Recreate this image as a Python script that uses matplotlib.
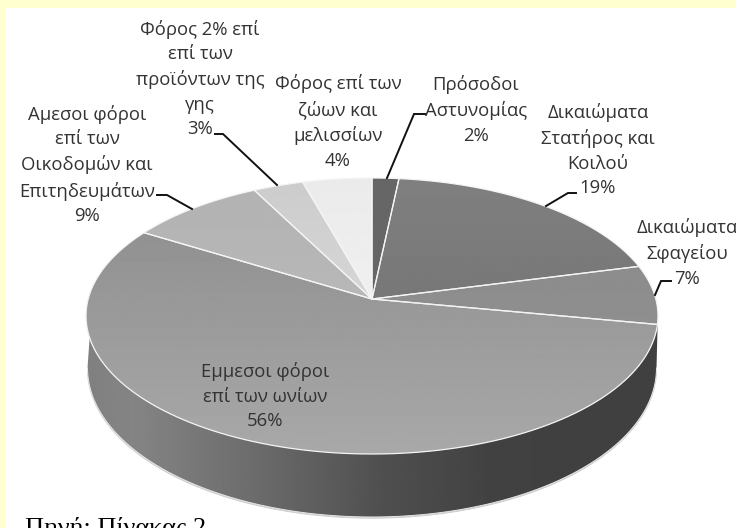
import numpy as np
import matplotlib
matplotlib.use("Agg")
import matplotlib.pyplot as plt
from matplotlib.patches import Polygon, Rectangle

labels = ["Πρόσοδοι\nΑστυνομίας\n2%",
          "Δικαιώματα\nΣτατήρος και\nΚοιλού\n19%",
          "Δικαιώματα\nΣφαγείου\n7%",
          "Εμμεσοι φόροι\nεπί των ωνίων\n56%",
          "Αμεσοι φόροι\nεπί των\nΟικοδομών και\nΕπιτηδευμάτων\n9%",
          "Φόρος 2% επί\nεπί των\nπροϊόντων της\nγης\n3%",
          "Φόρος επί των\nζώων και\nμελισσίων\n4%"]
values = [1.7, 19.3, 6.9, 55.7, 8.7, 3.2, 4.4]
shade_top = [0.40, 0.50, 0.55, 0.57, 0.70, 0.80, 0.92]
shade_bot = [0.40, 0.47, 0.56, 0.66, 0.72, 0.84, 0.94]
label_xy = [(476, 110), (598, 150), (687, 253), (265, 396), (87, 165), (200, 79), (338, 122)]
leaders = [[(425, 114), (414, 114), (387, 178)],
           [(576, 193), (568, 193), (546, 206)],
           [(671, 281), (661, 281), (655, 295)],
           None,
           [(157, 195), (167, 195), (192, 209)],
           [(215, 134), (223, 134), (277, 185)],
           None]
source = "Πηγή: Πίνακας 2"

FONT = "Open Sans"
fig = plt.figure(figsize=(7.36, 5.28), dpi=100, facecolor="white")
ax = fig.add_axes([0, 0, 1, 1])
ax.axis("off")

# frame
cream = "#ffffd0"
ax.add_patch(Rectangle((0, 0), 736, 8, fc=cream, ec="none", zorder=1))
ax.add_patch(Rectangle((0, 0), 6, 528, fc=cream, ec="none", zorder=1))

# perspective projection of the unit disc
k, cx, apex, q, A = 0.1232, 372.0, 299.0, -99.07, 283.8
def proj(theta):
    u, v = np.sin(theta), np.cos(theta)
    w = 1 + k * v
    return np.column_stack([cx + A * u / w, (apex + q * v) / w])

# side wall
t = np.linspace(np.radians(96), np.radians(276), 300)
top_arc = proj(t)
bot_t = np.linspace(0, np.pi, 300)
bot_arc = np.column_stack([cx + 284.5 * np.cos(bot_t), 368 + 149 * np.sin(bot_t)])
side = np.vstack([top_arc, bot_arc[::-1]])
ax.add_patch(Polygon(bot_arc + [0, 1.2], closed=True, fc="#cccccc", ec="#cccccc", lw=0.6, zorder=2))
side_poly = Polygon(side, closed=True, fc="none", ec="none", zorder=3)
ax.add_patch(side_poly)
xs = np.linspace(0, 1, 256)
ramp = np.interp(xs, [0, 0.08, 0.3, 0.52, 0.72, 1.0], [0.50, 0.52, 0.42, 0.31, 0.255, 0.25])
im = ax.imshow(ramp[None, :], extent=(86, 658, 528, 160), cmap="gray", vmin=0, vmax=1,
               aspect="auto", zorder=3, interpolation="bilinear")
im.set_clip_path(side_poly)
ax.plot(bot_arc[:, 0], bot_arc[:, 1], color="#e8e8e8", lw=0.7, zorder=4)

# top face
cum = np.concatenate([[0], np.cumsum(values)]) / np.sum(values) * 2 * np.pi
centre = np.array([[cx, apex]])
for i in range(len(values)):
    th = np.linspace(cum[i], cum[i + 1], 120)
    pts = np.vstack([centre, proj(th)])
    wedge = Polygon(pts, closed=True, fc="none", ec="none", zorder=5)
    ax.add_patch(wedge)
    g = np.linspace(shade_top[i], shade_bot[i], 128)[:, None]
    img = ax.imshow(g, extent=(pts[:, 0].min(), pts[:, 0].max(), pts[:, 1].max(), pts[:, 1].min()),
                    cmap="gray", vmin=0, vmax=1, aspect="auto", zorder=5, interpolation="bilinear")
    img.set_clip_path(wedge)
    ax.add_patch(Polygon(pts, closed=True, fc="none", ec="#f4f4f4", lw=0.9, zorder=5.5, joinstyle="round"))

# labels and leaders
for text, (x, y) in zip(labels, label_xy):
    ax.text(x, y, text, ha="center", va="center", family=FONT, fontsize=13.3,
            color="#333333", linespacing=1.47, zorder=7, clip_on=False)
for line in leaders:
    if line:
        p = np.array(line)
        ax.plot(p[:, 0], p[:, 1], color="#111111", lw=1.4, zorder=6, solid_joinstyle="miter")

ax.text(25, 529, source, ha="left", va="center", family="Liberation Serif", fontsize=19,
        color="black", zorder=7)
ax.set_xlim(0, 736)
ax.set_ylim(528, 0)
fig.savefig("out.png", dpi=100)
